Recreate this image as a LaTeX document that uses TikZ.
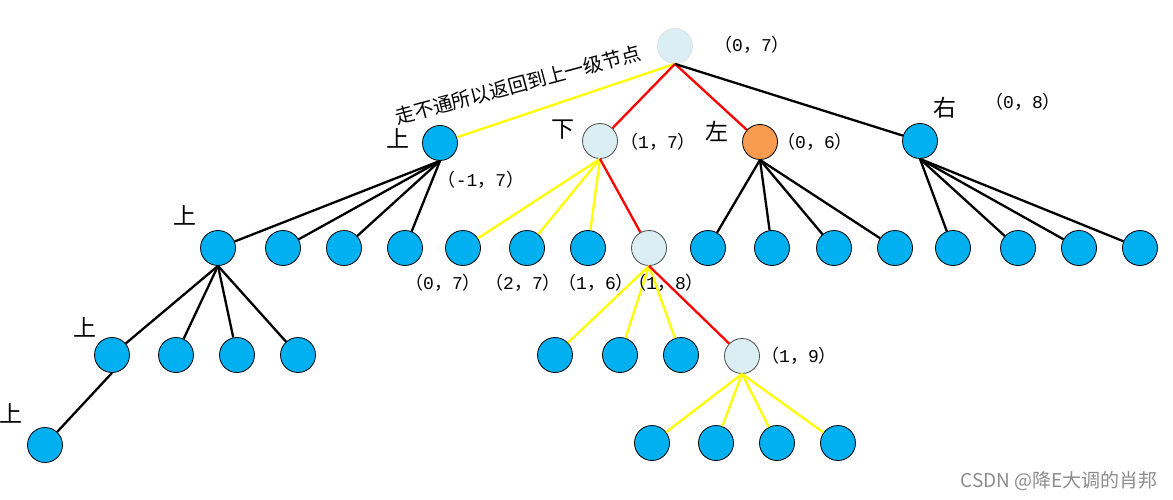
\documentclass[tikz,border=0pt]{standalone}
\usepackage{fontspec}
\setmonofont{Liberation Mono}
\newfontfamily\cjk{Noto Sans CJK SC}
\definecolor{cellblue}{HTML}{00B0F0}
\definecolor{cellpale}{HTML}{DAEEF3}
\definecolor{cellorange}{HTML}{F79B50}
\definecolor{wayyellow}{HTML}{FFFF00}
\newcommand{\xy}[2]{{\cjk （}\texttt{#1}{\cjk ，}\texttt{#2}{\cjk ）}}

\begin{document}
\begin{tikzpicture}[x=1pt,y=-1pt,
    cell/.style={circle,draw=black,fill=cellblue,minimum size=35pt,inner sep=0pt,line width=0.8pt},
    seen/.style={cell,fill=cellpale,draw=black!70},
    dead/.style={cell,fill=cellorange},
    way/.style={line width=2.3pt},
    dir/.style={font=\cjk\fontsize{23}{23}\selectfont},
    place/.style={font=\fontsize{18}{18}\selectfont}]
    \useasboundingbox (0,0) rectangle (1173,500);
    % Nodos del laberinto
    \node[seen,draw=black!12] (r) at (675,46) {};
    \node[cell] (u) at (440,143) {};
    \node[seen] (d) at (600,141) {};
    \node[dead] (l) at (760,142) {};
    \node[cell] (ri) at (920,141) {};
    \foreach \x [count=\i] in {218,283,344,405}
        \node[cell] (u\i) at (\x,248) {};
    \foreach \x [count=\i] in {463,527,588}
        \node[cell] (d\i) at (\x,248) {};
    \node[seen] (d4) at (649,248) {};
    \foreach \x [count=\i] in {708,772,834,895}
        \node[cell] (l\i) at (\x,248) {};
    \foreach \x [count=\i] in {953,1018,1079,1140}
        \node[cell] (ri\i) at (\x,248) {};
    \foreach \x [count=\i] in {112,176,237,298}
        \node[cell] (uu\i) at (\x,355) {};
    \foreach \x [count=\i] in {555,620,681}
        \node[cell] (dd\i) at (\x,355) {};
    \node[seen] (dd4) at (742,356) {};
    \node[cell] (uuu) at (45,445) {};
    \foreach \x [count=\i] in {652,716,777,838}
        \node[cell] (ddd\i) at (\x,443) {};
    % Caminos
    \draw[way,wayyellow] (r.south) -- (u);
    \draw[way,red] (r.south) -- (d);
    \draw[way,red] (r.south) -- (l);
    \draw[way] (r.south) -- (ri);
    \foreach \i in {1,...,4} {
        \draw[way] (u.south) -- (u\i);
        \draw[way] (l.south) -- (l\i);
        \draw[way] (ri.south) -- (ri\i);
        \draw[way] (u1.south) -- (uu\i);
        \draw[way,wayyellow] (dd4.south) -- (ddd\i);
    }
    \foreach \i in {1,2,3} {
        \draw[way,wayyellow] (d.south) -- (d\i);
        \draw[way,wayyellow] (d4.south) -- (dd\i);
    }
    \draw[way,red] (d.south) -- (d4);
    \draw[way,red] (d4.south) -- (dd4);
    \draw[way] (uu1.south) -- (uuu);
    % Direcciones
    \node[dir] (tu) at (398,138) {上};
    \node[dir] (td) at (563,130) {下};
    \node[dir] (tl) at (717,131) {左};
    \node[dir] (tr) at (945,108) {右};
    \node[dir] (tu1) at (185,215) {上};
    \node[dir] (tuu) at (85,327) {上};
    \node[dir] (tuuu) at (11,413) {上};
    % Coordenadas
    \node[place] (pr) at (752,45) {\xy{0}{7}};
    \node[place] (pu) at (481,180) {\xy{-1}{7}};
    \node[place] (pd) at (658,142) {\xy{1}{7}};
    \node[place] (pl) at (815,142) {\xy{0}{6}};
    \node[place] (pri) at (1023,102) {\xy{0}{8}};
    \node[place] (pd1) at (443,283) {\xy{0}{7}};
    \node[place] (pd2) at (523,283) {\xy{2}{7}};
    \node[place] (pd3) at (596,283) {\xy{1}{6}};
    \node[place] (pd4) at (666,283) {\xy{1}{8}};
    \node[place] (pdd4) at (799,356) {\xy{1}{9}};
    % Nota
    \node[rotate=15,font=\cjk\fontsize{19.5}{19.5}\selectfont] (note) at (518,85) {走不通所以返回到上一级节点};
    \node[text=black!45,font=\cjk\fontsize{19}{19}\selectfont] (mark) at (1059,481) {CSDN @降E大调的肖邦};
\end{tikzpicture}
\end{document}
